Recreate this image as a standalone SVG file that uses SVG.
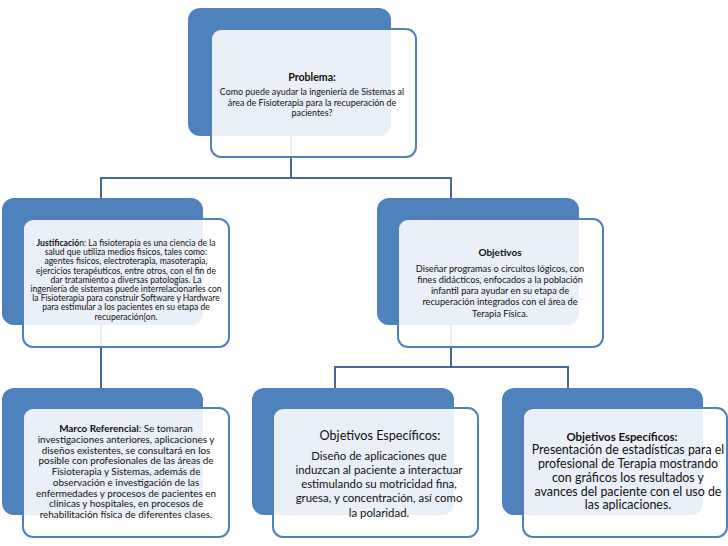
<svg xmlns="http://www.w3.org/2000/svg" width="728" height="546" viewBox="0 0 728 546">
<style>
.back{fill:#4f81bd}
.card{fill:#ffffff;fill-opacity:0.88;stroke:#4f81bd;stroke-width:2}
.conn{fill:none;stroke:#46698d;stroke-width:2}
text{font-family:Lato,"Liberation Sans",sans-serif;fill:#111;text-anchor:middle}
.t{font-size:8.9px}
.j{font-size:8.6px}
.o{font-size:9.2px}
.mr{font-size:9.9px}
.e1{font-size:11.4px}
.e2{font-size:12.4px}
.b{font-weight:bold}
</style>
<rect width="728" height="546" fill="#ffffff"/>
<g id="connectors">
<path class="conn" d="M291 136 V178 M101 178 H451 M101 177 V198 M451 177 V198"/>
<path class="conn" d="M101 325 V388"/>
<path class="conn" d="M451 325 V367 M335 367 H568 M335 366 V388 M568 366 V388"/>
</g>
<g id="problema">
<rect class="back" x="188" y="8" width="203" height="128" rx="12"/>
<rect class="card" x="211" y="29" width="205" height="128" rx="10"/>
<text class="b" x="312" y="81" style="font-size:10.6px">Problema:</text>
<text class="t" x="312" y="95">Como puede ayudar la ingeniería de Sistemas  al</text>
<text class="t" x="312" y="105.5">área de Fisioterapia para la recuperación de</text>
<text class="t" x="312" y="116">pacientes?</text>
</g>
<g id="justificacion">
<rect class="back" x="2" y="198" width="201" height="127" rx="12"/>
<rect class="card" x="23" y="219" width="206" height="128" rx="10"/>
<text class="j" x="126" y="246"><tspan class="b">Justificació</tspan>n: La fisioterapia es una ciencia de la</text>
<text class="j" x="126" y="255.2">salud que utiliza medios fisicos, tales como:</text>
<text class="j" x="126" y="264.4">agentes fisicos, electroterapia, masoterapia,</text>
<text class="j" x="126" y="273.6">ejercicios terapéuticos, entre otros, con el fin de</text>
<text class="j" x="126" y="282.8">dar tratamiento a diversas patologías.  La</text>
<text class="j" x="126" y="292">ingeniería de sistemas puede interrelacionarles con</text>
<text class="j" x="126" y="301.2">la Fisioterapia para construir Software y Hardware</text>
<text class="j" x="126" y="310.4">para estimular a los pacientes en su etapa de</text>
<text class="j" x="126" y="319.6">recuperación[on.</text>
</g>
<g id="objetivos">
<rect class="back" x="377" y="198" width="202" height="127" rx="12"/>
<rect class="card" x="398" y="219" width="205" height="128" rx="10"/>
<text class="b" x="500" y="255.5" style="font-size:10px">Objetivos</text>
<text class="o" x="500" y="271.5">Diseñar programas o circuitos lógicos, con</text>
<text class="o" x="500" y="282.5">fines didácticos, enfocados a la población</text>
<text class="o" x="500" y="293.5">infantil para ayudar en su etapa de</text>
<text class="o" x="500" y="305">recuperación integrados con el área de</text>
<text class="o" x="500" y="316.5">Terapia Física.</text>
</g>
<g id="marco">
<rect class="back" x="2" y="388" width="201" height="127" rx="12"/>
<rect class="card" x="23" y="408" width="206" height="129" rx="10"/>
<text class="mr" x="126" y="431.5"><tspan class="b">Marco Referencial</tspan>: Se tomaran</text>
<text class="mr" x="126" y="442.5">investigaciones anteriores, aplicaciones y</text>
<text class="mr" x="126" y="453.5">diseños existentes, se consultará en los</text>
<text class="mr" x="126" y="464.3">posible con profesionales de las áreas de</text>
<text class="mr" x="126" y="475">Fisioterapia y Sistemas, además de</text>
<text class="mr" x="126" y="485.8">observación e investigación de las</text>
<text class="mr" x="126" y="496.6">enfermedades y procesos de pacientes en</text>
<text class="mr" x="126" y="507.4">clínicas y hospitales, en procesos de</text>
<text class="mr" x="126" y="518.4">rehabilitación física de diferentes clases.</text>
</g>
<g id="especificos1">
<rect class="back" x="252" y="388" width="202" height="127" rx="12"/>
<rect class="card" x="273" y="408" width="205" height="129" rx="10"/>
<text x="380" y="439.5" style="font-size:12.6px">Objetivos Específicos:</text>
<text class="e1" x="379" y="460">Diseño de aplicaciones que</text>
<text class="e1" x="379" y="474">induzcan al paciente a interactuar</text>
<text class="e1" x="379" y="488">estimulando su motricidad fina,</text>
<text class="e1" x="379" y="502">gruesa, y concentración, así como</text>
<text class="e1" x="379" y="516.5">la polaridad.</text>
</g>
<g id="especificos2">
<rect class="back" x="502" y="388" width="201" height="127" rx="12"/>
<rect class="card" x="523" y="408" width="204" height="129" rx="10"/>
<text class="b" x="622" y="441" style="font-size:11.4px">Objetivos Específicos:</text>
<text class="e2" x="628" y="453.5">Presentación de estadísticas para el</text>
<text class="e2" x="628" y="467.5">profesional de Terapia mostrando</text>
<text class="e2" x="628" y="481.5">con gráficos los resultados y</text>
<text class="e2" x="628" y="495.5">avances del paciente con el uso de</text>
<text class="e2" x="628" y="509">las aplicaciones.</text>
</g>
</svg>
